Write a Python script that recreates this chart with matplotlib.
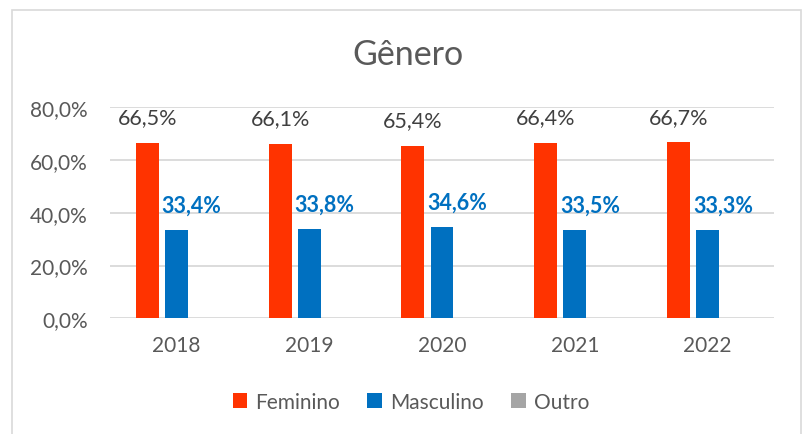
import numpy as np
import matplotlib.pyplot as plt
from matplotlib.patches import Rectangle

anos = ['2018', '2019', '2020', '2021', '2022']
feminino = [66.5, 66.1, 65.4, 66.4, 66.7]
masculino = [33.4, 33.8, 34.6, 33.5, 33.3]
outro = [0.1, 0.1, 0.0, 0.1, 0.0]

plt.rcParams['font.family'] = ['Lato', 'DejaVu Sans']
cinza = '#595959'

fig = plt.figure(figsize=(8.08, 4.35), dpi=100)
ax = fig.add_axes([110 / 808, 1 - 319.3 / 435, 664 / 808, (319.3 - 108.3) / 435])

x = np.arange(len(anos))
w = 0.172
off = 0.219
b1 = ax.bar(x - off, feminino, w, color='#FF3300', label='Feminino', zorder=3)
b2 = ax.bar(x, masculino, w, color='#0070C0', label='Masculino', zorder=3)
b3 = ax.bar(x + off, outro, w, color='#A5A5A5', label='Outro', zorder=3)

def fmt(v):
    return ('%.1f%%' % v).replace('.', ',')

for xi, v in zip(x, feminino):
    ax.annotate(fmt(v), (xi - off, v), xytext=(0, 18.5), textcoords='offset points',
                ha='center', va='center', fontsize=15.5, color='#404040')
for xi, v in zip(x, masculino):
    ax.annotate(fmt(v), (xi, v), xytext=(11, 18), textcoords='offset points',
                ha='center', va='center', fontsize=15.5, color='#0070C0', fontweight='bold')

ax.set_xlim(-0.5, 4.5)
ax.set_ylim(0, 80)
ax.set_yticks([0, 20, 40, 60, 80])
ax.set_yticklabels([fmt(t) for t in [0, 20, 40, 60, 80]])
ax.set_xticks(x)
ax.set_xticklabels(anos)
ax.tick_params(length=0, labelsize=15, colors=cinza)
ax.tick_params(axis='y', pad=16)
ax.tick_params(axis='x', pad=12)
ax.yaxis.grid(True, color='#D9D9D9', linewidth=1.3, zorder=0)
for s in ax.spines.values():
    s.set_visible(False)

fig.text(408 / 808, 1 - 55 / 435, 'Gênero', ha='center', va='center',
         fontsize=24.5, color=cinza)

leg = fig.legend(handles=[b1, b2, b3], loc='center', bbox_to_anchor=(411 / 808, 1 - 403 / 435),
                 ncol=3, frameon=False, fontsize=15, handlelength=0.7, handleheight=0.7,
                 handletextpad=0.4, columnspacing=1.3)
for t in leg.get_texts():
    t.set_color(cinza)

fig.patches.append(Rectangle((11.5 / 808, -0.02), (801 - 11.5) / 808, 1.02 - 10.5 / 435,
                             transform=fig.transFigure, fill=False, edgecolor='#D9D9D9',
                             linewidth=1.2))

fig.savefig('out.png', dpi=100)
